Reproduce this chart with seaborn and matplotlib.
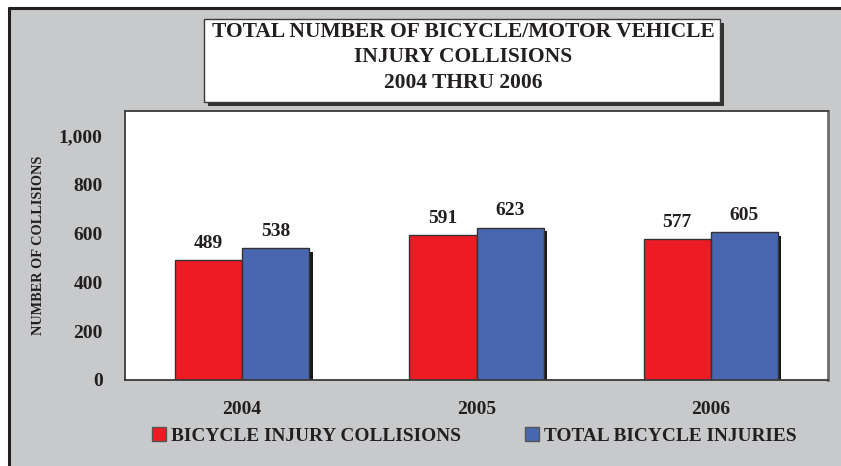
import matplotlib
matplotlib.use("Agg")
import matplotlib.pyplot as plt
import matplotlib.patheffects as pe
from matplotlib.patches import Rectangle, Patch
import seaborn as sns
import pandas as pd

years = ["2004", "2005", "2006"]
series_names = ["BICYCLE INJURY COLLISIONS", "TOTAL BICYCLE INJURIES"]
collisions = [489, 591, 577]
injuries = [538, 623, 605]
yticks = [0, 200, 400, 600, 800, 1000]
ytick_labels = ["0", "200", "400", "600", "800", "1,000"]
title_lines = ["TOTAL NUMBER OF BICYCLE/MOTOR VEHICLE", "INJURY COLLISIONS", "2004 THRU 2006"]

df = pd.DataFrame({
    "year": years * 2,
    "series": [series_names[0]] * 3 + [series_names[1]] * 3,
    "value": collisions + injuries,
})

RED = "#ED1C24"
BLUE = "#4967B0"
GRAY = "#C8C9CB"
TXT = "#231F20"
FONT = "Liberation Serif"

sns.set_theme(style="white")
plt.rcParams["font.family"] = [FONT, "DejaVu Serif"]

W, H = 841, 466
fig = plt.figure(figsize=(W / 100, H / 100), dpi=100)
fig.patch.set_facecolor("white")

# grey panel with black left/top border
fig.add_artist(Rectangle((9 / W, 0), 1, 1 - 8 / H, transform=fig.transFigure,
                         facecolor=GRAY, edgecolor="none", zorder=0))
fig.add_artist(plt.Line2D([9 / W, 9 / W], [0, 1 - 8 / H], transform=fig.transFigure,
                          color=TXT, lw=2.2, zorder=1))
fig.add_artist(plt.Line2D([9 / W, 1], [1 - 8 / H, 1 - 8 / H], transform=fig.transFigure,
                          color=TXT, lw=2.2, zorder=1))

ax = fig.add_axes([125 / W, (H - 380) / H, (828 - 125) / W, (380 - 111) / H])
ax.set_facecolor("white")

sns.barplot(data=df, x="year", y="value", hue="series", order=years,
            hue_order=series_names, palette=[RED, BLUE], width=0.573,
            saturation=1, edgecolor="#333333", linewidth=1.0, ax=ax, legend=False)

shadow = [pe.SimplePatchShadow(offset=(2.5, -2.5), shadow_rgbFace="black", alpha=0.9), pe.Normal()]
for bar in ax.patches:
    bar.set_path_effects(shadow)

for cont in ax.containers:
    ax.bar_label(cont, fmt="%d", padding=6, fontsize=14, fontweight="bold",
                 color=TXT, family=FONT)

ax.set_xlim(-0.5, 2.5)
ax.set_ylim(0, 1100)
ax.set_yticks(yticks)
ax.set_yticklabels(ytick_labels)
ax.tick_params(axis="both", length=0, labelsize=14, labelcolor=TXT)
ax.tick_params(axis="y", pad=16)
ax.tick_params(axis="x", pad=15)
for lbl in ax.get_xticklabels() + ax.get_yticklabels():
    lbl.set_fontweight("bold")
ax.set_xlabel("")
ax.set_ylabel("NUMBER OF COLLISIONS", fontsize=10.3, fontweight="bold", color=TXT)
ax.yaxis.set_label_coords((45 - 125) / 703, 0.5)

for s in ["left", "bottom", "top"]:
    ax.spines[s].set_color("#3a3a3a")
    ax.spines[s].set_linewidth(1.3)
ax.spines["right"].set_color("#6d6e70")
ax.spines["right"].set_linewidth(2.0)

# title box
tb = Rectangle((204 / W, 1 - 102 / H), (720 - 204) / W, (102 - 19) / H, transform=fig.transFigure,
               facecolor="white", edgecolor="#3a3a3a", lw=1.0, zorder=3)
tb.set_path_effects([pe.SimplePatchShadow(offset=(3, -3), shadow_rgbFace="#333333", alpha=1), pe.Normal()])
fig.add_artist(tb)
for i, line in enumerate(title_lines):
    fig.text(463 / W, 1 - (32 + i * 25.5) / H, line, ha="center", va="center", fontsize=15.5,
             fontweight="bold", color=TXT, zorder=4)

handles = [Patch(facecolor=RED, edgecolor="#555555", lw=1.0),
           Patch(facecolor=BLUE, edgecolor="#555555", lw=1.0)]
fig.legend(handles, series_names, loc="center", bbox_to_anchor=(474 / W, 1 - 436 / H), ncol=2,
           frameon=False, handlelength=0.75, handleheight=0.75, handletextpad=0.25, columnspacing=3.3,
           prop={"family": FONT, "weight": "bold", "size": 13.9}, labelcolor=TXT)

fig.savefig("out.png", dpi=100, facecolor=fig.get_facecolor())
